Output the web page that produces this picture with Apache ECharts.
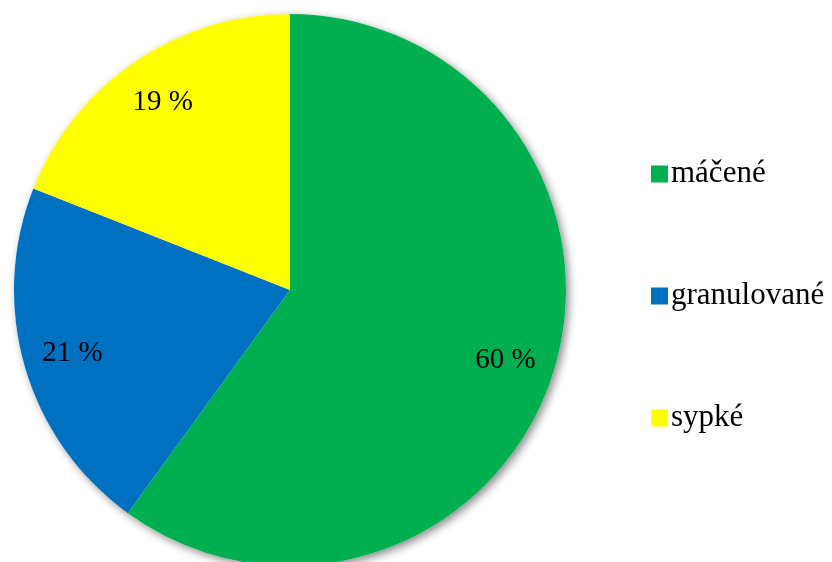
<!DOCTYPE html>
<html>
<head>
<meta charset="utf-8">
<script src="https://cdn.jsdelivr.net/npm/echarts@6/dist/echarts.min.js"></script>
<style>
  html, body { margin: 0; padding: 0; background: #fff; }
  #chart { width: 832px; height: 562px; }
</style>
</head>
<body>
<div id="chart"></div>
<script>
// data
const categories = ["máčené", "granulované", "sypké"];
const shares = [60, 21, 19];
const colors = ["#00B050", "#0070C0", "#FFFF00"];

const chart = echarts.init(document.getElementById("chart"));

const R = 276;
const center = [290, 290];
const total = shares.reduce((a, b) => a + b, 0);

const pieData = categories.map((name, i) => ({
  name: name,
  value: shares[i],
  itemStyle: { color: colors[i] },
}));

const option = {
  animation: false,
  legend: {
    orient: "vertical",
    left: 646,
    top: 152,
    itemWidth: 17,
    itemHeight: 17,
    itemGap: 88,
    icon: "rect",
    textStyle: {
      fontFamily: "Liberation Serif",
      fontSize: 31,
      lineHeight: 34,
      color: "#000",
      padding: [0, 0, 0, -2],
    },
    data: categories.map((name, i) => ({ name: name, itemStyle: { color: colors[i] } })),
  },
  series: [
    // shadow underneath the whole pie
    {
      type: "pie",
      center: center,
      radius: [0, R],
      silent: true,
      label: { show: false },
      labelLine: { show: false },
      itemStyle: {
        color: "#ffffff",
        shadowBlur: 8,
        shadowOffsetX: 3,
        shadowOffsetY: 3,
        shadowColor: "rgba(0,0,0,0.45)",
      },
      data: [{ name: "_total", value: total }],
    },
    {
      type: "pie",
      center: center,
      radius: [0, R],
      startAngle: 90,
      clockwise: true,
      silent: true,
      label: { show: false },
      labelLine: { show: false },
      data: pieData,
    },
    // transparent ring only to place the labels further out
    {
      type: "pie",
      center: center,
      radius: [R * 0.62, R],
      startAngle: 90,
      clockwise: true,
      silent: true,
      itemStyle: { color: "transparent" },
      label: {
        show: true,
        position: "inside",
        formatter: "{c} %",
        fontFamily: "Liberation Serif",
        fontSize: 29,
        color: "#000",
      },
      labelLine: { show: false },
      data: categories.map((name, i) => ({ name: name, value: shares[i] })),
    },
  ],
};

chart.setOption(option);
</script>
</body>
</html>
